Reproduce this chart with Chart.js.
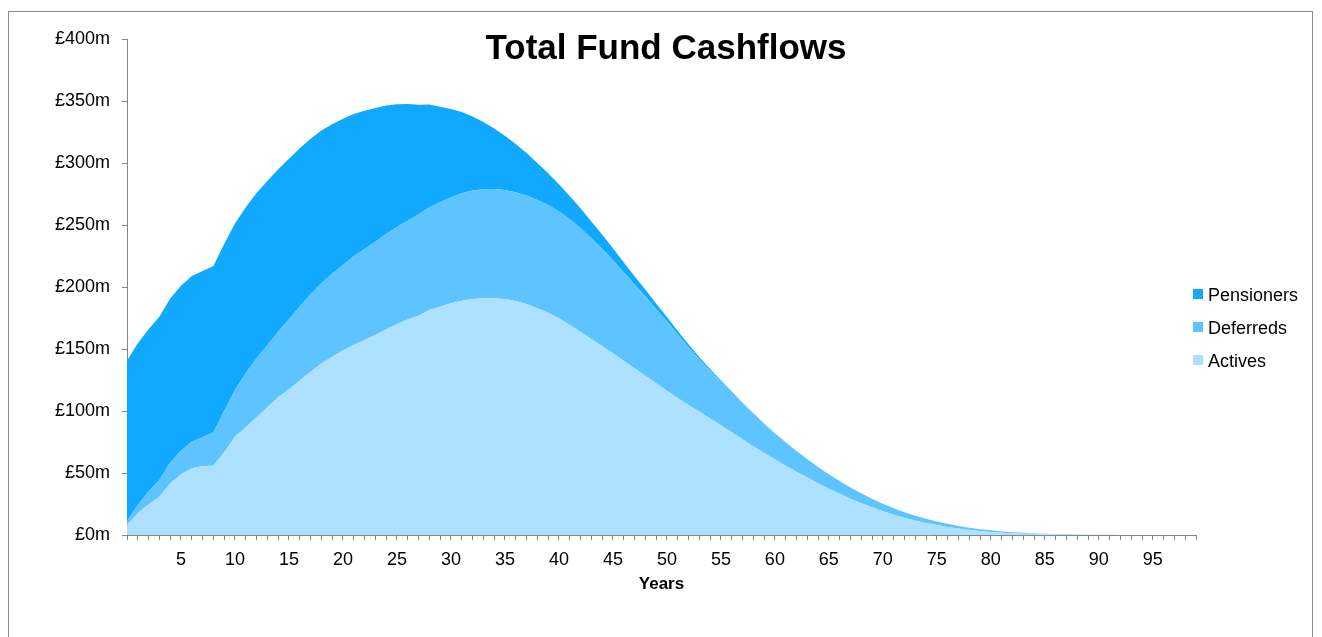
<!DOCTYPE html>
<html>
<head>
<meta charset="utf-8">
<script src="https://cdn.jsdelivr.net/npm/chart.js@4.4.1/dist/chart.umd.min.js"></script>
<style>
  html, body { margin:0; padding:0; background:#fff; overflow:hidden; }
  body { width:1322px; height:637px; position:relative; font-family:"Liberation Sans", Arial, sans-serif; }
  #frame { position:absolute; left:8px; top:11px; width:1305px; height:720px; border:1px solid #8c8c8c; box-sizing:border-box; }
  #c { position:absolute; left:0; top:0; }
  #title { position:absolute; left:0; top:27px; width:1332px; text-align:center; font-weight:bold; font-size:35px; line-height:40px; color:#000; }
  .leg { position:absolute; left:1193px; height:18px; font-size:18px; line-height:18px; color:#000; white-space:nowrap; }
  .leg span.box { position:absolute; left:0; top:3px; width:10px; height:10px; }
  .leg span.txt { position:absolute; left:15px; top:0; }
</style>
</head>
<body>
<div id="frame"></div>
<canvas id="c" width="1322" height="637"></canvas>
<div id="title">Total Fund Cashflows</div>
<div class="leg" style="top:286px"><span class="box" style="background:#10A9FF"></span><span class="txt">Pensioners</span></div>
<div class="leg" style="top:319px"><span class="box" style="background:#5DC4FF"></span><span class="txt">Deferreds</span></div>
<div class="leg" style="top:352px"><span class="box" style="background:#AEE1FF"></span><span class="txt">Actives</span></div>
<script>
const years = [0,1,2,3,4,5,6,7,8,9,10,11,12,13,14,15,16,17,18,19,20,21,22,23,24,25,26,27,28,29,30,31,32,33,34,35,36,37,38,39,40,41,42,43,44,45,46,47,48,49,50,51,52,53,54,55,56,57,58,59,60,61,62,63,64,65,66,67,68,69,70,71,72,73,74,75,76,77,78,79,80,81,82,83,84,85,86,87,88,89,90,91,92,93,94,95,96,97,98,99];

const tickLabels = [5,10,15,20,25,30,35,40,45,50,55,60,65,70,75,80,85,90,95];

const actives = [8,17.5,24.7,30.9,41.7,48.9,53.8,55.6,55.9,66.7,
  79.3,86.9,94.9,103,111,117.5,124.5,131.7,138.4,143.8,
  148.7,153.2,157.3,161.3,165.9,170.2,173.7,176.9,181.5,184.1,
  186.8,189,190.3,190.9,190.9,190.3,188.7,186.3,182.8,179.3,
  174.7,169.4,164,158.1,152.5,146.5,140.5,134.5,128.5,122.4,
  116.3,110.5,104.9,99.5,94,88.5,82.8,77.2,71.6,66.2,
  61,55.9,51,46.3,41.7,37.3,33.2,29.3,25.7,22.3,
  19.2,16.4,13.9,11.7,9.7,8,6.5,5.2,4.1,3.2,
  2.5,1.9,1.45,1.1,0.8,0.6,0.43,0.3,0.2,0.14,
  0.1,0.06,0.04,0.02,0.01,0,0,0,0,0];

const deferreds = [3.5,6.7,10.3,13.5,16.6,19.1,21.5,23.2,26.7,33.5,
  37.6,43.5,47.6,50.2,53,56.5,59.8,62.5,64.7,66.8,
  69,71.5,73.3,75.2,76.8,78.2,79.8,81.5,82.8,84.2,
  85.5,86.7,87.5,88,88.1,88,87.8,87.5,87.3,86.8,
  86.2,85.2,83.6,81.3,78.4,75.1,71.4,67.6,64,59.8,
  56,51.2,46.7,42,38.5,35,32,28.8,26,23.3,
  20.8,18.6,16.6,14.8,13.1,11.6,10.2,9,7.9,6.9,
  6,5.2,4.5,3.9,3.4,2.9,2.5,2.1,1.8,1.5,
  1.25,1,0.8,0.65,0.5,0.4,0.3,0.22,0.16,0.11,
  0.08,0.05,0.03,0.02,0.01,0.01,0,0,0,0];

const pensioners = [129,130.4,131,131.6,132.5,133,133.6,134.1,134.4,134.5,
  134.4,134,133.3,132.3,131,129.4,127.5,125.4,123.1,120.6,
  117.9,114.9,111.5,107.8,103.6,99,94,88.6,82.9,77.1,
  71.2,65.4,59.7,54.2,48.8,43.7,38.8,34.2,29.8,25.7,
  22,18.8,16,13.5,11.4,9.6,8,6.6,5.4,4.4,
  3.6,2.9,2.3,1.8,1.4,1.1,0.85,0.65,0.5,0.38,
  0.29,0.22,0.16,0.12,0.09,0.07,0.05,0.04,0.03,0.02,
  0.02,0.01,0.01,0,0,0,0,0,0,0,
  0,0,0,0,0,0,0,0,0,0,
  0,0,0,0,0,0,0,0,0,0];

const FONT = '"Liberation Sans", Arial, sans-serif';
const AXIS = '#868686';

new Chart(document.getElementById('c'), {
  type: 'line',
  data: {
    labels: years,
    datasets: [
      { label: 'Actives', data: actives, backgroundColor: '#AEE1FF', borderWidth: 0, borderColor: 'rgba(0,0,0,0)', fill: 'origin', pointRadius: 0, tension: 0 },
      { label: 'Deferreds', data: deferreds, backgroundColor: '#5DC4FF', borderWidth: 0, borderColor: 'rgba(0,0,0,0)', fill: '-1', pointRadius: 0, tension: 0 },
      { label: 'Pensioners', data: pensioners, backgroundColor: '#10A9FF', borderWidth: 0, borderColor: 'rgba(0,0,0,0)', fill: '-1', pointRadius: 0, tension: 0 }
    ]
  },
  options: {
    responsive: false,
    animation: false,
    devicePixelRatio: 1,
    layout: { padding: { left: 0, top: 39, right: 126, bottom: 38 } },
    plugins: { legend: { display: false }, title: { display: false }, tooltip: { enabled: false } },
    scales: {
      x: {
        type: 'category',
        offset: false,
        grid: { display: true, drawOnChartArea: false, drawTicks: true, tickLength: 5, color: AXIS, lineWidth: 1 },
        border: { display: true, color: AXIS, width: 1 },
        ticks: {
          autoSkip: false, maxRotation: 0, minRotation: 0, padding: 9, color: '#000',
          font: { size: 18, family: FONT },
          callback: function(v, i) { return tickLabels.includes(years[i]) ? String(years[i]) : ''; }
        },
        title: { display: true, text: 'Years', color: '#000', font: { size: 17, weight: 'bold', family: FONT }, padding: { top: 4, bottom: 4 } },
        afterFit: function(s) { s.height = 64; }
      },
      y: {
        stacked: true,
        min: 0, max: 400,
        grid: { display: true, drawOnChartArea: false, drawTicks: true, tickLength: 5, color: AXIS, lineWidth: 1 },
        border: { display: true, color: AXIS, width: 1 },
        ticks: { stepSize: 50, padding: 12, color: '#000', font: { size: 18, family: FONT }, callback: function(v) { return '£' + v + 'm'; } },
        afterFit: function(s) { s.width = 127; }
      }
    }
  }
});
</script>
</body>
</html>
